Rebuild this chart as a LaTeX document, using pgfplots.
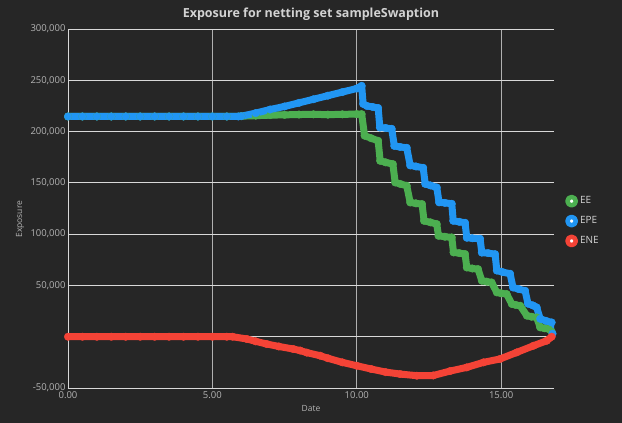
\documentclass[border=0pt]{standalone}
\usepackage{pgfplots}
\pgfplotsset{compat=1.18}
\usepackage{fontspec}
\setmainfont{Open Sans}
\definecolor{bg}{HTML}{262626}
\definecolor{cEE}{HTML}{4CAF50}
\definecolor{cEPE}{HTML}{2196F3}
\definecolor{cENE}{HTML}{F44336}
\definecolor{tickc}{HTML}{B4B4B4}
\definecolor{titlec}{HTML}{D2D2D2}
\definecolor{hgrid}{HTML}{D8D8D8}
\definecolor{vgrid}{HTML}{B0B0B0}
\begin{document}
\begin{tikzpicture}
\fill[bg] (0,0) rectangle (622pt,423pt);
\node[font=\bfseries\fontsize{12.5}{14}\selectfont, text=titlec] at (311pt,409pt) {Exposure for netting set sampleSwaption};
\begin{axis}[
  at={(68pt,35pt)}, anchor=south west, scale only axis,
  width=486pt, height=359pt,
  xmin=0, xmax=16.83, ymin=-50000, ymax=300000,
  scaled y ticks=false, scaled x ticks=false,
  axis x line*=bottom, axis y line*=left,
  axis line style={-, draw=hgrid, line width=0.9pt},
  xtick={0,5,10,15}, xticklabels={0.00,5.00,10.00,15.00},
  ytick={-50000,0,50000,100000,150000,200000,250000,300000},
  yticklabels={{-50,000},{},{50,000},{100,000},{150,000},{200,000},{250,000},{300,000}},
  major tick length=0pt,
  tick label style={font=\fontsize{9.5}{11}\selectfont, text=tickc},
  yticklabel style={xshift=1pt},
  xticklabel style={yshift=0pt},
  grid=major,
  major x grid style={draw=vgrid, line width=0.9pt},
  major y grid style={draw=hgrid, line width=0.9pt},
  xlabel={Date}, ylabel={Exposure},
  every axis x label/.style={at={(axis description cs:0.5,0)}, yshift=-21pt, anchor=center, font=\fontsize{8.5}{10}\selectfont, text=tickc},
  every axis y label/.style={at={(axis description cs:0,0.47)}, xshift=-48pt, rotate=90, anchor=center, font=\fontsize{8.5}{10}\selectfont, text=tickc},
  legend style={at={(axis description cs:1,0.465)}, anchor=west, xshift=8pt, draw=none, fill=none, text=titlec, font=\fontsize{10}{12}\selectfont, row sep=7pt},
  legend cell align=left,
  every axis plot/.append style={line width=7pt, line join=round, line cap=round, mark=*, mark size=3.8pt, mark options={line width=0.3pt}},
]
\addplot[cEE,
  legend image code/.code={\draw[draw=cEE, fill=white, line width=4.5pt] (4pt,0) circle (4.2pt);}]
coordinates {
(0,214700)(0.5,214700)(1,214700)(1.5,214700)(2,214700)(2.5,214700)(3,214700)(3.5,214700)(4,214700)(4.5,214700)(5,214700)(5.5,214700)(6,215000)
(6.5,215500)(7,216000)(7.5,216300)(8,216600)(8.5,216800)(9,216500)(9.5,216800)(10,217000)(10.17,217000)
(10.27,196000)(10.5,193500)(10.74,191000)
(10.81,171500)(11.0,170000)(11.25,168300)
(11.33,150400)(11.5,149000)(11.73,147200)
(11.85,130900)(12.05,130000)(12.26,129300)
(12.33,113000)(12.55,111500)(12.77,109800)
(12.83,98400)(13.05,97500)(13.29,96800)
(13.35,82200)(13.55,81500)(13.75,80600)
(13.81,67500)(14.0,66500)(14.2,65900)
(14.33,54600)(14.5,53700)(14.67,52900)
(14.85,43200)(15.0,42300)(15.19,41600)
(15.37,31900)(15.5,31000)(15.66,30200)
(15.89,20500)(16.05,19500)(16.23,18800)
(16.35,9100)(16.5,8200)(16.65,7500)
(16.75,5000)
};
\addlegendentry{EE}
\addplot[cEPE,
  legend image code/.code={\draw[draw=cEPE, fill=white, line width=4.5pt] (4pt,0) circle (4.2pt);}]
coordinates {
(0,214700)(0.5,214700)(1,214700)(1.5,214700)(2,214700)(2.5,214700)(3,214700)(3.5,214700)(4,214700)(4.5,214700)(5,214700)(5.5,214700)(5.9,214700)
(6.0,215000)(6.5,218000)(7.0,221500)(7.5,224500)(8.0,228000)(8.5,231500)(9.0,235000)(9.5,238500)(10.0,242000)(10.17,244600)
(10.22,227000)(10.35,225000)(10.55,224000)(10.74,223000)
(10.8,204000)(11.0,203500)(11.21,202700)
(11.3,186000)(11.5,185000)(11.73,184200)
(11.85,167000)(12.05,166000)(12.3,164700)
(12.37,149000)(12.55,147500)(12.77,145500)
(12.85,131000)(13.05,130500)(13.29,129600)
(13.34,113000)(13.55,112000)(13.75,111100)
(13.81,96500)(14.0,96000)(14.27,95500)
(14.33,82000)(14.55,81500)(14.79,80500)
(14.85,64500)(15.05,63000)(15.31,61400)
(15.41,48000)(15.6,46500)(15.83,44800)
(15.93,32200)(16.1,30500)(16.23,28600)
(16.35,17500)(16.55,15500)(16.75,13900)
(16.78,3000)
};
\addlegendentry{EPE}
\addplot[cENE,
  legend image code/.code={\draw[draw=cENE, fill=white, line width=4.5pt] (4pt,0) circle (4.2pt);}]
coordinates {
(0,0)(0.5,0)(1,0)(1.5,0)(2,0)(2.5,0)(3,0)(3.5,0)(4,0)(4.5,0)(5,0)(5.5,0)(5.7,0)
(6.19,-2200)(6.5,-4500)(6.88,-7100)(7.3,-9500)(7.8,-12000)(8.04,-13500)(8.27,-15500)(8.73,-18500)(9.0,-21000)(9.5,-25000)(10.0,-28300)
(10.5,-31500)(11.0,-34500)(11.5,-36400)(12.08,-38000)(12.65,-37800)(13.23,-33500)(13.81,-29900)(14.39,-25000)(14.96,-21700)
(15.54,-15300)(16.12,-8800)(16.58,-3900)(16.75,0)
};
\addlegendentry{ENE}
\end{axis}
\pgfresetboundingbox
\useasboundingbox (0,0) rectangle (622pt,423pt);
\end{tikzpicture}
\end{document}
